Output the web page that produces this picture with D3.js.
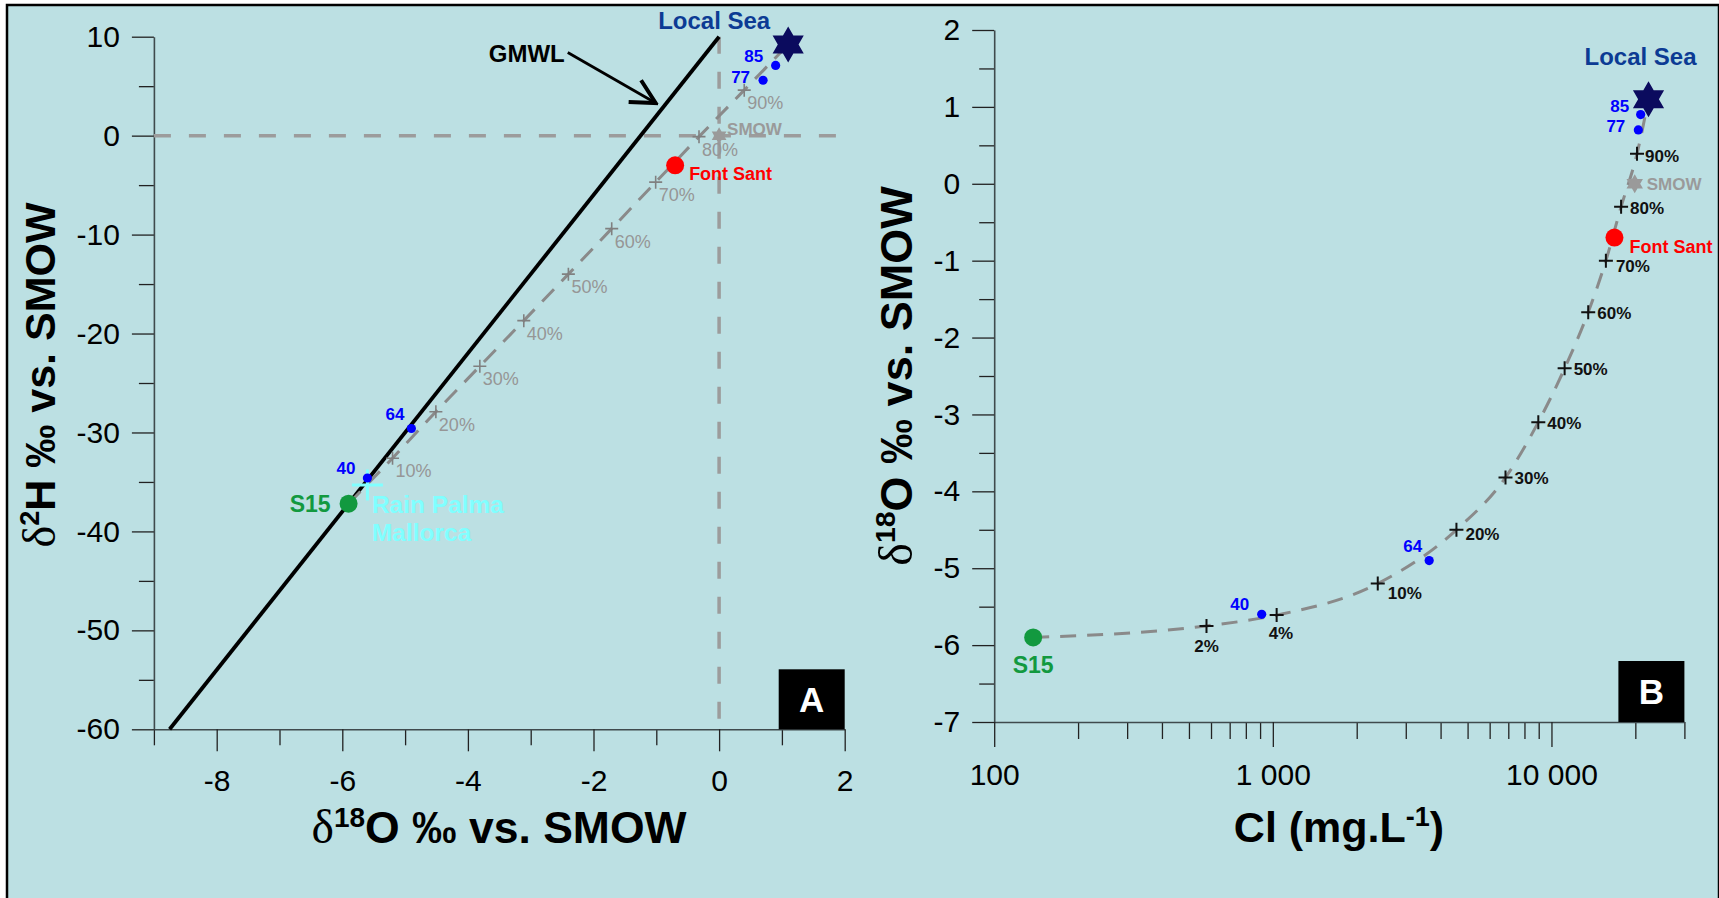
<!DOCTYPE html>
<html>
<head>
<meta charset="utf-8">
<script src="https://cdn.jsdelivr.net/npm/d3@7/dist/d3.min.js"></script>
<style>
  body { margin: 0; background: #fff; }
</style>
</head>
<body>
<div id="chart"></div>
<script>
// ---- data ----
// mixing percentages (fraction of sea water)
const mixPctA = ["10%", "20%", "30%", "40%", "50%", "60%", "70%", "80%", "90%"];
const mixD18O_A = [-5.20, -4.51, -3.81, -3.11, -2.40, -1.71, -1.01, -0.32, 0.40];
const mixD2H_A = [-32.6, -27.9, -23.3, -18.7, -14.0, -9.4, -4.7, -0.1, 4.6];

const mixPctB = ["2%", "4%", "10%", "20%", "30%", "40%", "50%", "60%", "70%", "80%", "90%"];
const mixCl_B = [578, 1032, 2380, 4560, 6840, 8970, 11150, 13550, 15680, 17780, 20280];
const mixD18O_B = [-5.75, -5.61, -5.20, -4.50, -3.82, -3.10, -2.40, -1.67, -1.00, -0.30, 0.39];

// numbered wells
const wellIds = ["40", "64", "77", "85"];
const wellD18O = [-5.6, -4.9, 0.7, 0.9];
const wellD2H = [-34.6, -29.6, 5.6, 7.1];
const wellCl = [912, 3640, 20500, 20900];

// end members and references
const s15 = {d18O: -5.9, d2H: -37.2, cl: 138};
const sea = {d18O: 1.1, d2H: 9.2, cl: 22300};
const fontSant = {d18O: -0.7, d2H: -3.0, cl: 16830};
const smow = {d18O: 0, d2H: 0, cl: 19900};
const rain = {d18O: -5.6, d2H: -35.3};
const gmwl = [[-8.75, -60], [0, 10]];
const gmwlArrow = [[-2.41, 8.4], [-1.01, 3.3]];

// axis ticks
const xTicksA = [-8, -6, -4, -2, 0, 2];
const yTicksA = [10, 0, -10, -20, -30, -40, -50, -60];
const yTicksB = [2, 1, 0, -1, -2, -3, -4, -5, -6, -7];
const xTicksB = [100, 1000, 10000];

const FONT = "'Liberation Sans', Arial, Helvetica, sans-serif";
const SERIF = "'Liberation Serif', 'Times New Roman', serif";
const BG = "#bce0e3";
const TICK_FS = 30;

const svg = d3.select("#chart").append("svg")
    .attr("width", 1719)
    .attr("height", 898)
    .style("display", "block");

svg.append("rect")
    .attr("x", 7).attr("y", 5)
    .attr("width", 1712).attr("height", 900)
    .attr("fill", BG)
    .attr("stroke", "#000")
    .attr("stroke-width", 2.5);

const defs = svg.append("defs");
defs.append("marker")
    .attr("id", "arrow")
    .attr("markerUnits", "userSpaceOnUse")
    .attr("viewBox", "0 0 30 30")
    .attr("markerWidth", 30).attr("markerHeight", 30)
    .attr("refX", 27).attr("refY", 15)
    .attr("orient", "auto")
  .append("path")
    .attr("d", "M3,2.5 L27,15 L3,27.5")
    .attr("fill", "none")
    .attr("stroke", "#000")
    .attr("stroke-width", 4);

function hexagram(cx, cy, R) {
  const r = R / Math.sqrt(3), pts = [];
  for (let i = 0; i < 12; i++) {
    const a = (-90 + i * 30) * Math.PI / 180, rad = i % 2 ? r : R;
    pts.push([cx + rad * Math.cos(a), cy + rad * Math.sin(a)]);
  }
  return "M" + pts.join("L") + "Z";
}

function styleAxis(g) {
  g.selectAll("text")
    .attr("font-family", FONT)
    .attr("font-size", TICK_FS)
    .attr("fill", "#000");
  g.select(".domain").attr("stroke", "#3f4a4d").attr("stroke-width", 1.6);
  g.selectAll(".tick line").attr("stroke", "#222").attr("stroke-width", 1.3);
}

function cross(g, x, y, s, color, w) {
  g.append("path")
    .attr("d", `M${x - s / 2},${y}H${x + s / 2}M${x},${y - s / 2}V${y + s / 2}`)
    .attr("stroke", color)
    .attr("stroke-width", w)
    .attr("fill", "none");
}

function label(g, x, y, txt, opt) {
  return g.append("text")
    .attr("x", x).attr("y", y)
    .attr("font-family", FONT)
    .attr("font-size", opt.size)
    .attr("font-weight", opt.bold ? "bold" : "normal")
    .attr("fill", opt.color)
    .attr("text-anchor", opt.anchor || "start")
    .text(txt);
}

// title helper: delta + superscript + rest
function deltaTitle(g, x, y, sup, rest, rotate, fs) {
  const t = g.append("text")
      .attr("transform", `translate(${x},${y})` + (rotate ? " rotate(-90)" : ""))
      .attr("text-anchor", "middle")
      .attr("font-family", FONT)
      .attr("font-weight", "bold")
      .attr("font-size", fs)
      .attr("fill", "#000");
  t.append("tspan").attr("font-family", SERIF).attr("font-weight", "normal").attr("font-size", fs * 1.07).text("δ");
  t.append("tspan").attr("font-size", fs * 0.63).attr("dy", -fs * 0.37).text(sup);
  t.append("tspan").attr("dy", fs * 0.37).text(rest);
}

// ================= Panel A =================
const xA = d3.scaleLinear().domain([-9, 2]).range([153.9, 844.7]);
const yA = d3.scaleLinear().domain([-60, 10]).range([729.3, 36.7]);
const gA = svg.append("g");

// axes
gA.append("g")
    .attr("transform", `translate(${xA(-9)},0)`)
    .call(d3.axisLeft(yA).tickValues(d3.range(-55, 10, 10)).tickSize(15).tickFormat(""))
    .call(g => g.select(".domain").remove())
    .call(styleAxis);
gA.append("g")
    .attr("transform", `translate(${xA(-9)},0)`)
    .call(d3.axisLeft(yA).tickValues(yTicksA).tickSize(22).tickSizeOuter(0).tickPadding(12).tickFormat(d => String(d)))
    .call(styleAxis);
gA.append("g")
    .attr("transform", `translate(0,${yA(-60)})`)
    .call(d3.axisBottom(xA).tickValues([-9, -7, -5, -3, -1, 1]).tickSize(16).tickFormat(""))
    .call(g => g.select(".domain").remove())
    .call(styleAxis);
gA.append("g")
    .attr("transform", `translate(0,${yA(-60)})`)
    .call(d3.axisBottom(xA).tickValues(xTicksA).tickSize(22).tickSizeOuter(0).tickPadding(18).tickFormat(d => String(d)))
    .call(styleAxis);

// reference dashed lines at 0
gA.append("line")
    .attr("x1", xA(-9)).attr("x2", xA(2.08))
    .attr("y1", yA(0)).attr("y2", yA(0))
    .attr("stroke", "#9c9c9c").attr("stroke-width", 3.5).attr("stroke-dasharray", "17,18");
gA.append("line")
    .attr("x1", xA(0)).attr("x2", xA(0))
    .attr("y1", yA(10)).attr("y2", yA(-60))
    .attr("stroke", "#9c9c9c").attr("stroke-width", 3.5).attr("stroke-dasharray", "17,18");

// GMWL
gA.append("line")
    .attr("x1", xA(gmwl[0][0])).attr("y1", yA(gmwl[0][1]))
    .attr("x2", xA(gmwl[1][0])).attr("y2", yA(gmwl[1][1]))
    .attr("stroke", "#000").attr("stroke-width", 3.8);
gA.append("line")
    .attr("x1", xA(gmwlArrow[0][0])).attr("y1", yA(gmwlArrow[0][1]))
    .attr("x2", xA(gmwlArrow[1][0])).attr("y2", yA(gmwlArrow[1][1]))
    .attr("stroke", "#000").attr("stroke-width", 2.8)
    .attr("marker-end", "url(#arrow)");
label(gA, xA(gmwlArrow[0][0]) - 3, yA(gmwlArrow[0][1]) + 9, "GMWL", {size: 24, bold: true, color: "#000", anchor: "end"});

// mixing line
const mixLineA = [[s15.d18O, s15.d2H]]
    .concat(mixD18O_A.map((d, i) => [d, mixD2H_A[i]]))
    .concat([[sea.d18O, sea.d2H]]);
gA.append("path")
    .attr("d", d3.line().x(d => xA(d[0])).y(d => yA(d[1]))(mixLineA))
    .attr("fill", "none")
    .attr("stroke", "#8a8a8a").attr("stroke-width", 3)
    .attr("stroke-dasharray", "17,11");

mixD18O_A.forEach((d, i) => {
  const px = xA(d), py = yA(mixD2H_A[i]);
  cross(gA, px, py, 13, "#808080", 1.6);
  label(gA, px + 3, py + 19, mixPctA[i], {size: 18, color: "#969696"});
});

// Rain Palma Mallorca
cross(gA, xA(rain.d18O), yA(rain.d2H), 31, "#80ffff", 3);
label(gA, xA(rain.d18O) + 4.5, yA(rain.d2H) + 28, "Rain Palma", {size: 24.5, bold: true, color: "#80ffff"});
label(gA, xA(rain.d18O) + 4.5, yA(rain.d2H) + 56.5, "Mallorca", {size: 24.5, bold: true, color: "#80ffff"});

// SMOW
gA.append("path").attr("d", hexagram(xA(smow.d18O), yA(smow.d2H), 8.5)).attr("fill", "#9a9a9a");
label(gA, xA(smow.d18O) + 8, yA(smow.d2H) - 1, "SMOW", {size: 17, bold: true, color: "#9a9a9a"});

// wells
const wellOffA = [[-12, -3.5], [-7, -9], [-13, 3], [-12.5, -3.5]];
wellIds.forEach((id, i) => {
  const px = xA(wellD18O[i]), py = yA(wellD2H[i]);
  gA.append("circle").attr("cx", px).attr("cy", py).attr("r", 4.6).attr("fill", "#0000ff");
  label(gA, px + wellOffA[i][0], py + wellOffA[i][1], id, {size: 17, bold: true, color: "#0000ff", anchor: "end"});
});

// S15
gA.append("circle").attr("cx", xA(s15.d18O)).attr("cy", yA(s15.d2H)).attr("r", 9).attr("fill", "#12993f");
label(gA, xA(s15.d18O) - 18, yA(s15.d2H) + 8, "S15", {size: 23, bold: true, color: "#12993f", anchor: "end"});

// Font Sant
gA.append("circle").attr("cx", xA(fontSant.d18O)).attr("cy", yA(fontSant.d2H)).attr("r", 9).attr("fill", "#ff0000");
label(gA, xA(fontSant.d18O) + 14, yA(fontSant.d2H) + 15, "Font Sant", {size: 18, bold: true, color: "#ff0000"});

// Local Sea
gA.append("path").attr("d", hexagram(xA(sea.d18O), yA(sea.d2H), 18)).attr("fill", "#0b0b5e");
label(gA, xA(sea.d18O) - 74, yA(sea.d2H) - 16, "Local Sea", {size: 24, bold: true, color: "#0c3b94", anchor: "middle"});

// axis titles
deltaTitle(gA, 55, 375, "2", "H ‰ vs. SMOW", true, 43);
deltaTitle(gA, 499, 843, "18", "O ‰ vs. SMOW", false, 44.5);

// panel letter
gA.append("rect").attr("x", xA(2) - 66).attr("y", yA(-60) - 60).attr("width", 66).attr("height", 60).attr("fill", "#000");
label(gA, xA(2) - 33, yA(-60) - 17, "A", {size: 35, bold: true, color: "#fff", anchor: "middle"});

// ================= Panel B =================
const xB = d3.scaleLog().domain([100, 30000]).range([994.2, 1684.4]);
const yB = d3.scaleLinear().domain([-7, 2]).range([722, 30]);
const gB = svg.append("g");

const minorCl = [200, 300, 400, 500, 600, 700, 800, 900,
                 2000, 3000, 4000, 5000, 6000, 7000, 8000, 9000, 20000, 30000];

gB.append("g")
    .attr("transform", `translate(${xB(100)},0)`)
    .call(d3.axisLeft(yB).tickValues(d3.range(-6.5, 2, 1)).tickSize(15).tickFormat(""))
    .call(g => g.select(".domain").remove())
    .call(styleAxis);
gB.append("g")
    .attr("transform", `translate(${xB(100)},0)`)
    .call(d3.axisLeft(yB).tickValues(yTicksB).tickSize(22).tickSizeOuter(0).tickPadding(12).tickFormat(d => String(d)))
    .call(styleAxis);
gB.append("g")
    .attr("transform", `translate(0,${yB(-7)})`)
    .call(d3.axisBottom(xB).tickValues(minorCl).tickSize(17).tickFormat(""))
    .call(g => g.select(".domain").remove())
    .call(styleAxis);
gB.append("g")
    .attr("transform", `translate(0,${yB(-7)})`)
    .call(d3.axisBottom(xB).tickValues(xTicksB).tickSize(25).tickSizeOuter(0).tickPadding(17)
      .tickFormat(d => d3.format(",")(d).replace(/,/g, " ")))
    .call(styleAxis);

// mixing curve
const mixLineB = [[s15.cl, s15.d18O]]
    .concat(mixCl_B.map((c, i) => [c, mixD18O_B[i]]))
    .concat([[sea.cl, sea.d18O]]);
gB.append("path")
    .attr("d", d3.line().curve(d3.curveMonotoneX).x(d => xB(d[0])).y(d => yB(d[1]))(mixLineB))
    .attr("fill", "none")
    .attr("stroke", "#8a8a8a").attr("stroke-width", 3)
    .attr("stroke-dasharray", "16,11");

const pctOffB = {"2%": [0, 26, "middle"], "4%": [-8, 24, "start"], "10%": [10, 15, "start"],
                 "20%": [9, 10, "start"], "70%": [10, 11, "start"], "90%": [8, 8, "start"]};
mixCl_B.forEach((c, i) => {
  const px = xB(c), py = yB(mixD18O_B[i]);
  cross(gB, px, py, 14, "#111", 2);
  const o = pctOffB[mixPctB[i]] || [9, 7, "start"];
  label(gB, px + o[0], py + o[1], mixPctB[i], {size: 17, bold: true, color: "#111", anchor: o[2]});
});

// SMOW
gB.append("path").attr("d", hexagram(xB(smow.cl), yB(smow.d18O), 9.5)).attr("fill", "#9a9a9a");
label(gB, xB(smow.cl) + 12, yB(smow.d18O) + 6.5, "SMOW", {size: 17, bold: true, color: "#9a9a9a"});

// wells
const wellOffB = [[-12.5, -4], [-7, -9], [-13, 2.5], [-11.5, -3]];
wellIds.forEach((id, i) => {
  const px = xB(wellCl[i]), py = yB(wellD18O[i]);
  gB.append("circle").attr("cx", px).attr("cy", py).attr("r", 4.6).attr("fill", "#0000ff");
  label(gB, px + wellOffB[i][0], py + wellOffB[i][1], id, {size: 17, bold: true, color: "#0000ff", anchor: "end"});
});

// S15
gB.append("circle").attr("cx", xB(s15.cl)).attr("cy", yB(s15.d18O)).attr("r", 9).attr("fill", "#12993f");
label(gB, xB(s15.cl), yB(s15.d18O) + 36, "S15", {size: 23, bold: true, color: "#12993f", anchor: "middle"});

// Font Sant
gB.append("circle").attr("cx", xB(fontSant.cl)).attr("cy", yB(fontSant.d18O)).attr("r", 9).attr("fill", "#ff0000");
label(gB, xB(fontSant.cl) + 15, yB(fontSant.d18O) + 15, "Font Sant", {size: 18, bold: true, color: "#ff0000"});

// Local Sea
gB.append("path").attr("d", hexagram(xB(sea.cl), yB(sea.d18O), 18)).attr("fill", "#0b0b5e");
label(gB, xB(sea.cl) - 8, yB(sea.d18O) - 34, "Local Sea", {size: 24, bold: true, color: "#0c3b94", anchor: "middle"});

// axis titles
deltaTitle(gB, 912, 376, "18", "O ‰ vs. SMOW", true, 45);
const clTitle = gB.append("text")
    .attr("x", 1339).attr("y", 842)
    .attr("text-anchor", "middle")
    .attr("font-family", FONT).attr("font-weight", "bold").attr("font-size", 43)
    .attr("fill", "#000");
clTitle.append("tspan").text("Cl (mg.L");
clTitle.append("tspan").attr("font-size", 27).attr("dy", -16).text("-1");
clTitle.append("tspan").attr("dy", 16).text(")");

// panel letter
gB.append("rect").attr("x", xB(30000) - 66).attr("y", yB(-7) - 61).attr("width", 66).attr("height", 61).attr("fill", "#000");
label(gB, xB(30000) - 33, yB(-7) - 18, "B", {size: 35, bold: true, color: "#fff", anchor: "middle"});
</script>
</body>
</html>
